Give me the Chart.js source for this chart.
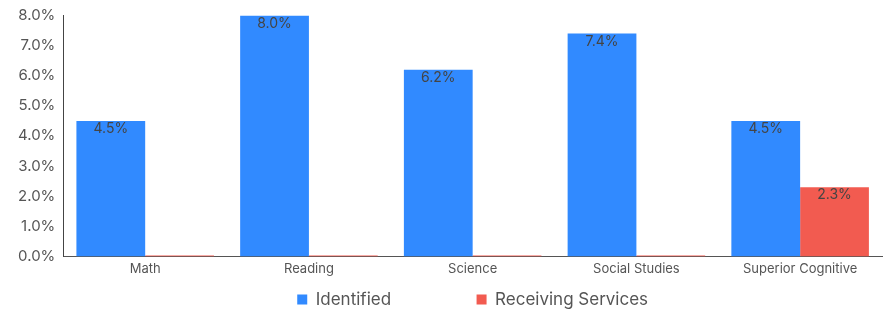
<!DOCTYPE html>
<html>
<head>
<meta charset="utf-8">
<script src="https://cdn.jsdelivr.net/npm/chart.js@4/dist/chart.umd.min.js"></script>
<style>
  html, body { margin: 0; padding: 0; background: #fff; }
  #wrap { width: 890px; height: 316px; position: relative; }
</style>
</head>
<body>
<div id="wrap"><canvas id="gifted-chart"></canvas></div>
<script>
(function () {
    "use strict";

    const categories = ["Math", "Reading", "Science", "Social Studies", "Superior Cognitive"];
    const identified = [4.5, 8.0, 6.2, 7.4, 4.5];
    const receivingServices = [0, 0, 0, 0, 2.3];
    const seriesNames = ["Identified", "Receiving Services"];

    const fontFamily = "Inter, 'Noto Sans', sans-serif";

    // etiquetas dentro de las barras, arriba
    const barLabels = {
        id: "barLabels",
        afterDatasetsDraw(chart) {
            const ctx = chart.ctx;
            ctx.save();
            ctx.font = "14px " + fontFamily;
            ctx.fillStyle = "#444";
            ctx.textAlign = "center";
            ctx.textBaseline = "top";
            chart.data.datasets.forEach((ds, i) => {
                chart.getDatasetMeta(i).data.forEach((bar, j) => {
                    const v = ds.data[j];
                    if (!v) return;
                    ctx.fillText(v.toFixed(1) + "%", bar.x, bar.y + 1);
                });
            });
            ctx.restore();
        },
    };

    // espacios para separar los elementos de la leyenda
    const pad = (n) => " ".repeat(n);

    const ctx = document.getElementById("gifted-chart").getContext("2d");
    new Chart(ctx, {
        type: "bar",
        data: {
            labels: categories,
            datasets: [
                {
                    label: seriesNames[0],
                    data: identified,
                    backgroundColor: "#318aff",
                    categoryPercentage: 0.84,
                    barPercentage: 1.0,
                },
                {
                    label: seriesNames[1],
                    data: receivingServices,
                    backgroundColor: "#f25b50",
                    categoryPercentage: 0.84,
                    barPercentage: 1.0,
                    minBarLength: 1,
                },
            ],
        },
        options: {
            responsive: true,
            maintainAspectRatio: false,
            animation: false,
            layout: { padding: { top: 0, right: 8, left: 10, bottom: -2 } },
            scales: {
                x: {
                    grid: { display: false, drawTicks: false },
                    border: { color: "#555" },
                    ticks: { color: "#555", font: { family: fontFamily, size: 13 }, padding: 5 },
                },
                y: {
                    min: 0,
                    max: 8,
                    grid: { display: false, drawTicks: false },
                    border: { color: "#444" },
                    ticks: {
                        stepSize: 1,
                        autoSkip: false,
                        color: "#555",
                        padding: 8,
                        font: { family: fontFamily, size: 15, lineHeight: 1 },
                        callback: (v) => v.toFixed(1) + "%",
                    },
                },
            },
            plugins: {
                legend: {
                    position: "bottom",
                    fullSize: false,
                    labels: {
                        boxWidth: 10,
                        boxHeight: 10,
                        padding: 9,
                        color: "#555",
                        font: { family: fontFamily, size: 17 },
                        generateLabels(chart) {
                            const items = Chart.defaults.plugins.legend.labels.generateLabels(chart);
                            items[0].text = items[0].text + pad(16);
                            return items;
                        },
                    },
                },
                tooltip: { enabled: false },
            },
        },
        plugins: [barLabels],
    });
})();
</script>
</body>
</html>
